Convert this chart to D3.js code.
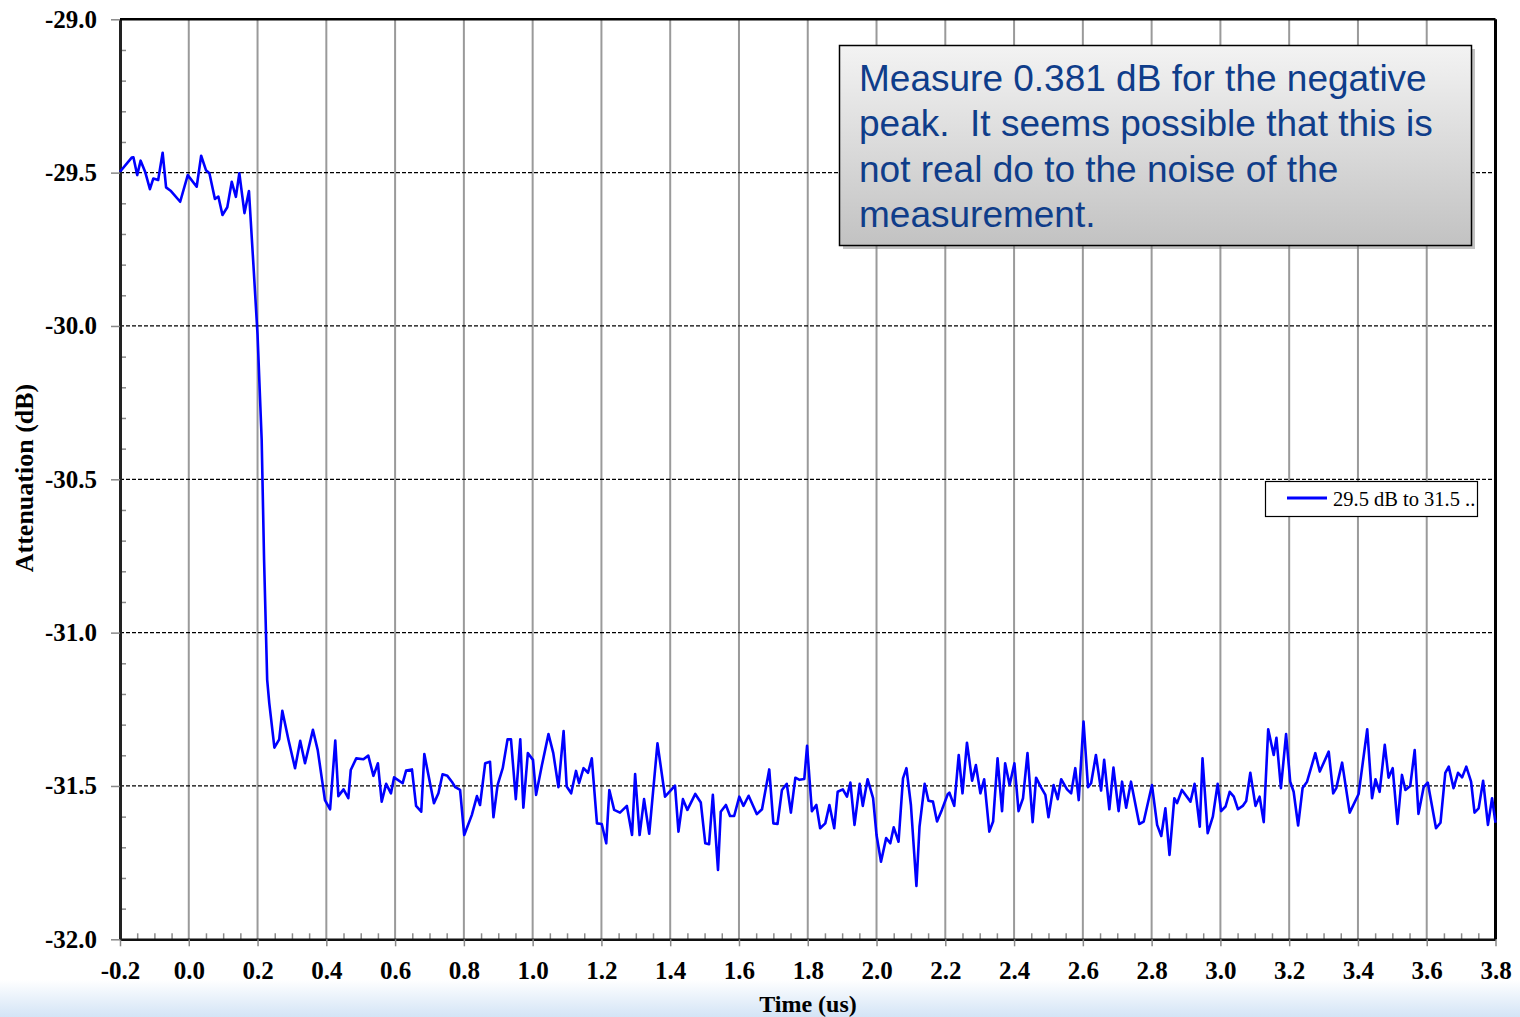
<!DOCTYPE html>
<html><head><meta charset="utf-8">
<script src="https://cdn.jsdelivr.net/npm/d3@7"></script>
<style>html,body{margin:0;padding:0;background:#fff;} svg{display:block;}</style>
</head><body>
<svg id="chart" width="1520" height="1017"></svg>
<script>
// ---------- data ----------
const xTicks = [-0.2,0.0,0.2,0.4,0.6,0.8,1.0,1.2,1.4,1.6,1.8,2.0,2.2,2.4,2.6,2.8,3.0,3.2,3.4,3.6,3.8];
const yTicks = [-29.0,-29.5,-30.0,-30.5,-31.0,-31.5,-32.0];
const xTitle = "Time (us)";
const yTitle = "Attenuation (dB)";
const seriesName = "29.5 dB to 31.5 ..";
const noteLines = ["Measure 0.381 dB for the negative", "peak.  It seems possible that this is", "not real do to the noise of the", "measurement."];
// [time (us), attenuation (dB)]
const trace = [
[-0.200,-29.497],[-0.166,-29.451],[-0.161,-29.450],[-0.150,-29.508],[-0.140,-29.461],[-0.127,-29.497],[-0.113,-29.554],[-0.103,-29.519],[-0.089,-29.524],[-0.076,-29.435],[-0.066,-29.548],[-0.053,-29.559],[-0.025,-29.595],[-0.003,-29.508],[0.023,-29.546],[0.036,-29.445],[0.050,-29.492],[0.060,-29.502],[0.076,-29.586],[0.086,-29.578],[0.098,-29.638],[0.112,-29.613],[0.125,-29.530],[0.137,-29.579],[0.147,-29.502],[0.162,-29.632],[0.175,-29.560],
[0.188,-29.801],[0.200,-30.029],[0.212,-30.372],[0.219,-30.763],[0.228,-31.154],[0.234,-31.229],
[0.249,-31.375],[0.263,-31.348],[0.272,-31.255],[0.290,-31.350],[0.309,-31.442],[0.324,-31.353],[0.338,-31.426],[0.361,-31.317],[0.375,-31.383],[0.396,-31.546],[0.411,-31.576],[0.426,-31.352],[0.435,-31.533],[0.450,-31.511],[0.464,-31.540],[0.471,-31.448],[0.487,-31.410],[0.508,-31.413],[0.522,-31.401],[0.537,-31.467],[0.550,-31.426],[0.561,-31.551],[0.574,-31.493],[0.588,-31.524],[0.597,-31.472],[0.622,-31.491],[0.632,-31.450],[0.649,-31.446],[0.661,-31.565],[0.676,-31.584],[0.685,-31.396],[0.713,-31.556],[0.726,-31.524],[0.738,-31.462],[0.752,-31.467],[0.765,-31.486],
[0.775,-31.504],[0.789,-31.513],[0.801,-31.660],[0.823,-31.595],[0.838,-31.533],[0.847,-31.562],[0.862,-31.426],[0.876,-31.421],[0.886,-31.602],[0.898,-31.497],[0.913,-31.442],[0.927,-31.348],[0.937,-31.348],[0.951,-31.543],[0.964,-31.348],[0.973,-31.571],[0.986,-31.393],[1.001,-31.415],[1.010,-31.529],[1.027,-31.432],[1.046,-31.331],[1.060,-31.393],[1.075,-31.504],[1.090,-31.321],[1.099,-31.502],[1.112,-31.524],[1.126,-31.451],[1.135,-31.491],[1.148,-31.442],[1.161,-31.457],[1.172,-31.410],[1.187,-31.622],[1.201,-31.624],[1.214,-31.687],[1.223,-31.513],[1.237,-31.578],[1.254,-31.587],[1.274,-31.565],[1.289,-31.660],[1.298,-31.461],[1.311,-31.660],[1.324,-31.543],[1.339,-31.656],[1.363,-31.361],[1.385,-31.535],[1.414,-31.499],[1.424,-31.649],[1.437,-31.543],[1.450,-31.578],[1.473,-31.526],[1.489,-31.554],[1.502,-31.687],[1.513,-31.690],[1.524,-31.529],[1.539,-31.774],[1.547,-31.584],[1.562,-31.562],[1.574,-31.598],[1.586,-31.598],[1.601,-31.535],[1.613,-31.565],[1.628,-31.532],[1.652,-31.592],[1.667,-31.576],[1.688,-31.446],[1.700,-31.622],[1.712,-31.624],[1.725,-31.513],[1.739,-31.493],[1.751,-31.587],[1.764,-31.473],[1.776,-31.480],[1.790,-31.477],[1.798,-31.369],[1.812,-31.582],[1.825,-31.562],[1.836,-31.638],[1.851,-31.622],[1.863,-31.562],[1.877,-31.638],[1.887,-31.519],[1.902,-31.511],[1.914,-31.535],[1.924,-31.489],[1.936,-31.627],[1.951,-31.493],[1.960,-31.565],[1.974,-31.478],[1.990,-31.540],[2.000,-31.660],[2.013,-31.747],[2.028,-31.670],[2.040,-31.687],[2.050,-31.635],[2.064,-31.682],[2.077,-31.475],[2.087,-31.442],[2.100,-31.562],[2.116,-31.826],[2.125,-31.633],[2.140,-31.493],[2.151,-31.548],[2.164,-31.551],[2.176,-31.616],[2.190,-31.578],[2.207,-31.527],[2.212,-31.522],[2.226,-31.565],[2.239,-31.399],[2.250,-31.524],[2.263,-31.359],[2.278,-31.483],[2.289,-31.432],[2.302,-31.524],[2.313,-31.478],[2.328,-31.649],[2.339,-31.616],[2.352,-31.410],[2.365,-31.582],[2.374,-31.426],[2.387,-31.497],[2.401,-31.426],[2.413,-31.582],[2.426,-31.540],[2.439,-31.393],[2.454,-31.618],[2.464,-31.473],[2.478,-31.504],[2.491,-31.529],[2.500,-31.602],[2.515,-31.497],[2.527,-31.543],[2.537,-31.478],[2.554,-31.511],[2.566,-31.524],[2.578,-31.442],[2.588,-31.546],[2.602,-31.290],[2.615,-31.504],[2.624,-31.491],[2.638,-31.399],[2.653,-31.515],[2.662,-31.415],[2.677,-31.576],[2.689,-31.440],[2.704,-31.582],[2.714,-31.486],[2.726,-31.571],[2.740,-31.486],[2.764,-31.624],[2.777,-31.616],[2.801,-31.497],[2.816,-31.627],[2.828,-31.663],[2.840,-31.573],[2.852,-31.725],[2.866,-31.540],[2.874,-31.556],[2.888,-31.513],[2.913,-31.551],[2.925,-31.493],[2.940,-31.633],[2.948,-31.410],[2.963,-31.654],[2.978,-31.600],[2.992,-31.493],[3.002,-31.582],[3.015,-31.567],[3.027,-31.519],[3.039,-31.535],[3.051,-31.576],[3.065,-31.565],[3.075,-31.549],[3.087,-31.457],[3.102,-31.565],[3.114,-31.535],[3.126,-31.618],[3.139,-31.315],[3.155,-31.399],[3.163,-31.343],[3.176,-31.507],[3.191,-31.331],[3.203,-31.486],[3.213,-31.519],[3.226,-31.629],[3.239,-31.507],[3.252,-31.486],[3.276,-31.393],[3.289,-31.453],[3.315,-31.388],[3.328,-31.524],[3.337,-31.507],[3.354,-31.424],[3.376,-31.587],[3.402,-31.526],[3.427,-31.315],[3.441,-31.540],[3.451,-31.478],[3.463,-31.519],[3.478,-31.366],[3.489,-31.473],[3.501,-31.442],[3.515,-31.624],[3.528,-31.464],[3.538,-31.513],[3.552,-31.500],[3.565,-31.383],[3.576,-31.591],[3.591,-31.504],[3.603,-31.489],[3.627,-31.638],[3.640,-31.620],[3.654,-31.457],[3.664,-31.437],[3.678,-31.507],[3.691,-31.457],[3.703,-31.472],[3.715,-31.437],[3.729,-31.486],[3.739,-31.587],[3.751,-31.573],[3.764,-31.483],[3.778,-31.627],[3.790,-31.540],[3.800,-31.620]
];

// ---------- drawing ----------
const W = 1520, H = 1017;
const svg = d3.select('#chart');
const serif = '"Liberation Serif","Times New Roman",Times,serif';
const sans = '"Liberation Sans",Arial,Helvetica,sans-serif';

const x = d3.scaleLinear().domain([-0.2, 3.8]).range([120, 1495.5]);
const y = d3.scaleLinear().domain([-32, -29]).range([939.3, 19.3]);

const defs = svg.append('defs');
const bg = defs.append('linearGradient').attr('id','bgGrad').attr('x1',0).attr('x2',0).attr('y1',0).attr('y2',1);
bg.append('stop').attr('offset','0%').attr('stop-color','#ffffff');
bg.append('stop').attr('offset','100%').attr('stop-color','#d3e4f6');
const boxG = defs.append('linearGradient').attr('id','boxGrad').attr('x1',0).attr('x2',0).attr('y1',0).attr('y2',1);
boxG.append('stop').attr('offset','0%').attr('stop-color','#f3f3f3');
boxG.append('stop').attr('offset','100%').attr('stop-color','#c2c2c2');
const clip = defs.append('clipPath').attr('id','legClip');
clip.append('rect').attr('x', 1266).attr('y', 482).attr('width', 210).attr('height', 34);

svg.append('rect').attr('width',W).attr('height',H).attr('fill','#fff');
svg.append('rect').attr('x',0).attr('y',980).attr('width',W).attr('height',H-980).attr('fill','url(#bgGrad)');

// vertical grid (solid gray)
svg.append('g').selectAll('line').data(xTicks.slice(1, -1)).join('line')
  .attr('x1', d => x(d)).attr('x2', d => x(d))
  .attr('y1', y(-29)).attr('y2', y(-32))
  .attr('stroke', '#9a9a9a').attr('stroke-width', 2);

// horizontal grid (dashed black)
svg.append('g').selectAll('line').data(yTicks.filter(d => d > -32 && d < -29)).join('line')
  .attr('x1', x(-0.2)).attr('x2', x(3.8))
  .attr('y1', d => y(d)).attr('y2', d => y(d))
  .attr('stroke', '#000').attr('stroke-width', 1.2).attr('stroke-dasharray', '4,2');

// minor ticks (inside)
const xMinor = d3.range(0, 81).map(i => -0.2 + i * 0.05).filter((d, i) => i % 4 !== 0);
const yMinor = d3.range(0, 31).map(i => -32 + i * 0.1).filter((d, i) => i % 5 !== 0);
svg.append('g').attr('transform', `translate(0,${y(-32)})`)
  .call(d3.axisBottom(x).tickValues(xMinor).tickSize(-6).tickFormat(''))
  .call(g => { g.select('.domain').remove(); g.selectAll('line').attr('stroke', '#8a8a8a').attr('stroke-width', 1.5); });
svg.append('g').attr('transform', `translate(${x(-0.2)},0)`)
  .call(d3.axisLeft(y).tickValues(yMinor).tickSize(-6).tickFormat(''))
  .call(g => { g.select('.domain').remove(); g.selectAll('line').attr('stroke', '#8a8a8a').attr('stroke-width', 1.5); });

// major axes
const xAxis = svg.append('g').attr('transform', `translate(0,${y(-32)})`)
  .call(d3.axisBottom(x).tickValues(xTicks).tickSize(7).tickPadding(15).tickSizeOuter(0).tickFormat(d3.format('.1f')));
xAxis.select('.domain').attr('stroke', '#111').attr('stroke-width', 2.5);
xAxis.selectAll('line').attr('stroke', '#888').attr('stroke-width', 1.5);
xAxis.selectAll('text').attr('font-family', serif).attr('font-weight', 'bold').attr('font-size', 25).attr('fill', '#000')
  .text(d => d3.format('.1f')(d).replace('−', '-'));

const yAxis = svg.append('g').attr('transform', `translate(${x(-0.2)},0)`)
  .call(d3.axisLeft(y).tickValues(yTicks).tickSize(9).tickPadding(14).tickSizeOuter(0).tickFormat(d3.format('.1f')));
yAxis.select('.domain').attr('stroke', '#222').attr('stroke-width', 3);
yAxis.selectAll('line').attr('stroke', '#888').attr('stroke-width', 1.5);
yAxis.selectAll('text').attr('font-family', serif).attr('font-weight', 'bold').attr('font-size', 25).attr('fill', '#000')
  .text(d => d3.format('.1f')(d).replace('−', '-'));

// top & right borders
svg.append('line').attr('x1', x(-0.2)).attr('x2', x(3.8)).attr('y1', y(-29)).attr('y2', y(-29)).attr('stroke', '#000').attr('stroke-width', 2.5);
svg.append('line').attr('x1', x(3.8)).attr('x2', x(3.8)).attr('y1', y(-29)).attr('y2', y(-32)).attr('stroke', '#000').attr('stroke-width', 3);

// trace
const line = d3.line().x(d => x(d[0])).y(d => y(d[1]));
svg.append('path').datum(trace).attr('d', line)
  .attr('fill', 'none').attr('stroke', '#0000ff').attr('stroke-width', 2.6).attr('stroke-linejoin', 'round');

// axis titles
svg.append('text').attr('x', 808).attr('y', 1012).attr('text-anchor', 'middle')
  .attr('font-family', serif).attr('font-weight', 'bold').attr('font-size', 24).text(xTitle);
svg.append('text').attr('transform', 'translate(33,478) rotate(-90)').attr('text-anchor', 'middle')
  .attr('font-family', serif).attr('font-weight', 'bold').attr('font-size', 26).text(yTitle);

// legend
const lg = svg.append('g');
lg.append('rect').attr('x', 1265.5).attr('y', 481.5).attr('width', 212).attr('height', 35).attr('fill', '#fff').attr('stroke', '#000').attr('stroke-width', 1.2);
lg.append('line').attr('x1', 1287).attr('x2', 1327).attr('y1', 498).attr('y2', 498).attr('stroke', '#0000ff').attr('stroke-width', 3);
lg.append('text').attr('x', 1333).attr('y', 506).attr('clip-path', 'url(#legClip)')
  .attr('font-family', serif).attr('font-size', 20.5).attr('fill', '#000').text(seriesName);

// annotation box
const nb = svg.append('g');
nb.append('rect').attr('x', 843).attr('y', 49).attr('width', 632).attr('height', 200).attr('fill', '#777').attr('opacity', 0.45);
nb.append('rect').attr('x', 839.5).attr('y', 45.5).attr('width', 632).attr('height', 200).attr('fill', 'url(#boxGrad)').attr('stroke', '#000').attr('stroke-width', 1.5);
nb.selectAll('text').data(noteLines).join('text')
  .attr('x', 859).attr('y', (d, i) => 91 + i * 45.3)
  .attr('font-family', sans).attr('font-size', 37).attr('fill', '#0f3d8a')
  .attr('xml:space', 'preserve').style('white-space', 'pre').text(d => d);
</script>
</body></html>
